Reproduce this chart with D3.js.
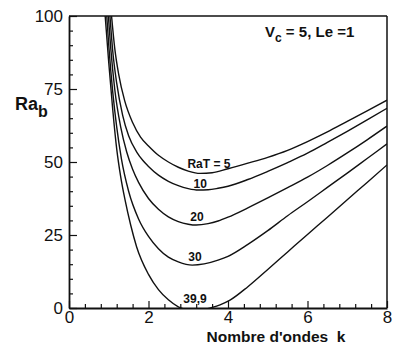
<!DOCTYPE html>
<html lang="fr">
<head>
    <meta charset="UTF-8">
    <script src="https://d3js.org/d3.v7.min.js"></script>
    <title>Ra_b vs k</title>
    <style>
        body { margin: 0; background: #fff; }
        text { font-family: "Liberation Sans", Arial, sans-serif; fill: #111; }
    </style>
</head>
<body>
<div id="chart"></div>
<script>
    // courbes de stabilite marginale
    const raTNames = ["RaT = 5", "10", "20", "30", "39,9"]

    const kRaT5 = [1.07, 1.15, 1.25, 1.4, 1.6, 1.8, 2.0, 2.25, 2.5, 2.75, 3.0, 3.3, 3.6, 4.0, 4.5, 5.0, 5.5, 6.0, 6.5, 7.0, 7.5, 8.0]
    const raRaT5 = [100, 89, 80, 71, 63.5, 58.5, 55.5, 52.3, 50.0, 48.2, 46.9, 46.1, 46.3, 47.7, 49.6, 51.6, 54.0, 57.0, 60.3, 63.9, 67.5, 71.2]

    const kRaT10 = [1.03, 1.1, 1.2, 1.35, 1.5, 1.7, 1.86, 2.0, 2.25, 2.5, 2.75, 3.0, 3.25, 3.5, 3.75, 4.0, 4.5, 5.0, 5.5, 6.0, 6.5, 7.0, 7.5, 8.0]
    const raRaT10 = [100, 88, 77, 66, 59, 53.5, 50.5, 48.5, 45.5, 43.4, 41.9, 40.9, 40.4, 40.5, 41.0, 41.7, 44.0, 46.8, 49.8, 53.0, 56.7, 60.5, 64.4, 68.4]

    const kRaT20 = [0.99, 1.05, 1.15, 1.3, 1.45, 1.6, 1.75, 2.0, 2.25, 2.5, 2.75, 3.0, 3.2, 3.5, 3.75, 4.0, 4.5, 5.0, 5.5, 6.0, 6.5, 7.0, 7.5, 8.0]
    const raRaT20 = [100, 89, 75, 62, 53.5, 47.5, 43, 37.5, 33.8, 31.2, 29.6, 28.7, 28.4, 28.9, 29.8, 31.1, 34.3, 37.7, 41.2, 44.8, 48.8, 53.1, 57.6, 62.3]

    const kRaT30 = [0.95, 1.0, 1.1, 1.2, 1.32, 1.5, 1.75, 2.0, 2.25, 2.5, 2.75, 3.1, 3.4, 3.75, 4.0, 4.5, 5.0, 5.5, 6.0, 6.5, 7.0, 7.5, 8.0]
    const raRaT30 = [100, 90, 74, 62, 51, 40, 30.5, 24.5, 20.3, 17.4, 15.8, 14.7, 15.1, 16.4, 17.7, 21.8, 26.5, 31.6, 36.4, 41.3, 46.2, 51.2, 56.2]

    const kRaT399 = [0.91, 1.0, 1.1, 1.2, 1.3, 1.41, 1.55, 1.7, 2.0, 2.25, 2.5, 2.75, 3.0, 3.2, 3.4, 3.6, 3.8, 4.05, 4.5, 5.0, 5.5, 6.0, 6.5, 7.0, 7.5, 8.0]
    const raRaT399 = [100, 84, 68, 54.5, 45, 37, 28.5, 21, 11.5, 6.3, 2.8, 0.4, -0.6, -0.8, -0.5, 0.2, 1.1, 2.7, 7.3, 13.2, 19.2, 25.2, 31.1, 37.1, 43.0, 49.0]

    // ou poser les etiquettes (k, Ra_b de la ligne de base)
    const labelK = [3.52, 3.3, 3.22, 3.17, 3.17]
    const labelRa = [47.8, 41.1, 29.9, 16.2, 1.6]

    const xTicks = [0, 2, 4, 6, 8]
    const yTicks = [0, 25, 50, 75, 100]

    const kSeries = [kRaT5, kRaT10, kRaT20, kRaT30, kRaT399]
    const raSeries = [raRaT5, raRaT10, raRaT20, raRaT30, raRaT399]

    let width = 393
    let height = 348
    let paddingLeft = 69
    let paddingRight = 6
    let paddingTop = 16
    let paddingBottom = 40

    let svg = d3.select("#chart").append("svg")
        .attr("width", width)
        .attr("height", height)

    let x = d3.scaleLinear().domain([0, 8]).range([paddingLeft, width - paddingRight])
    let y = d3.scaleLinear().domain([0, 100]).range([height - paddingBottom, paddingTop])

    svg.append("clipPath").attr("id", "plot")
        .append("rect")
        .attr("x", x(0)).attr("y", y(100))
        .attr("width", x(8) - x(0)).attr("height", y(0) - y(100))

    let line = d3.line()
        .x(d => x(d[0]))
        .y(d => y(d[1]))
        .curve(d3.curveMonotoneX)

    let curves = kSeries.map((ks, i) => ks.map((k, j) => [k, raSeries[i][j]]))

    svg.append("g")
        .attr("clip-path", "url(#plot)")
        .selectAll("path")
        .data(curves)
        .join("path")
        .attr("fill", "none")
        .attr("stroke", "#111")
        .attr("stroke-width", 1.4)
        .attr("d", line)

    svg.selectAll(".lbl")
        .data(raTNames)
        .join("text")
        .attr("class", "lbl")
        .attr("x", (d, i) => x(labelK[i]))
        .attr("y", (d, i) => y(labelRa[i]))
        .attr("text-anchor", "middle")
        .attr("font-size", 12)
        .attr("font-weight", "bold")
        .text(d => d)

    // axes, ticks vers l'interieur
    let xAxis = svg.append("g")
        .attr("transform", `translate(0,${y(0)})`)
        .call(d3.axisBottom(x).tickValues(xTicks).tickSize(-7).tickSizeOuter(0).tickPadding(3).tickFormat(d3.format("d")))
    let xMinor = svg.append("g")
        .attr("transform", `translate(0,${y(0)})`)
        .call(d3.axisBottom(x).tickValues(d3.range(21).filter(i => i % 5).map(i => i * 0.4)).tickSize(-4).tickFormat(""))
    let yAxis = svg.append("g")
        .attr("transform", `translate(${x(0)},0)`)
        .call(d3.axisLeft(y).tickValues(yTicks).tickSize(-8).tickSizeOuter(0).tickPadding(6))
    let yMinor = svg.append("g")
        .attr("transform", `translate(${x(0)},0)`)
        .call(d3.axisLeft(y).tickValues(d3.range(0, 101, 5).filter(v => v % 25)).tickSize(-4).tickFormat(""))

    xMinor.select(".domain").remove()
    yMinor.select(".domain").remove()
    svg.selectAll(".tick line").attr("stroke", "#111").attr("stroke-width", 1.2)
    xAxis.select(".domain").attr("stroke", "#111").attr("stroke-width", 2.2)
    yAxis.select(".domain").attr("stroke", "#111").attr("stroke-width", 1.8)
    svg.selectAll(".tick text").attr("font-size", 17).attr("font-family", null).style("fill", "#111")

    // cadre haut et droite
    svg.append("line")
        .attr("stroke", "#111").attr("stroke-width", 1.5)
        .attr("x1", x(0)).attr("x2", x(8))
        .attr("y1", y(100)).attr("y2", y(100))
    svg.append("line")
        .attr("stroke", "#111").attr("stroke-width", 1.5)
        .attr("x1", x(8)).attr("x2", x(8))
        .attr("y1", y(100)).attr("y2", y(0))

    // titres
    let yTitle = svg.append("text")
        .attr("x", 15)
        .attr("y", 110)
        .attr("font-size", 18)
        .attr("font-weight", "bold")
    yTitle.append("tspan").text("Ra")
    yTitle.append("tspan").attr("dy", 7).attr("font-size", 16).text("b")

    svg.append("text")
        .attr("x", 276)
        .attr("y", 342)
        .attr("text-anchor", "middle")
        .attr("font-size", 15.5)
        .attr("font-weight", "bold")
        .style("white-space", "pre")
        .attr("xml:space", "preserve")
        .text("Nombre d'ondes  k")

    let note = svg.append("text")
        .attr("x", 265)
        .attr("y", 37)
        .attr("font-size", 15)
        .attr("font-weight", "bold")
    note.append("tspan").text("V")
    note.append("tspan").attr("dy", 5).attr("font-size", 12).text("c")
    note.append("tspan").attr("dy", -5).text(" = 5, Le =1")
</script>
</body>
</html>
